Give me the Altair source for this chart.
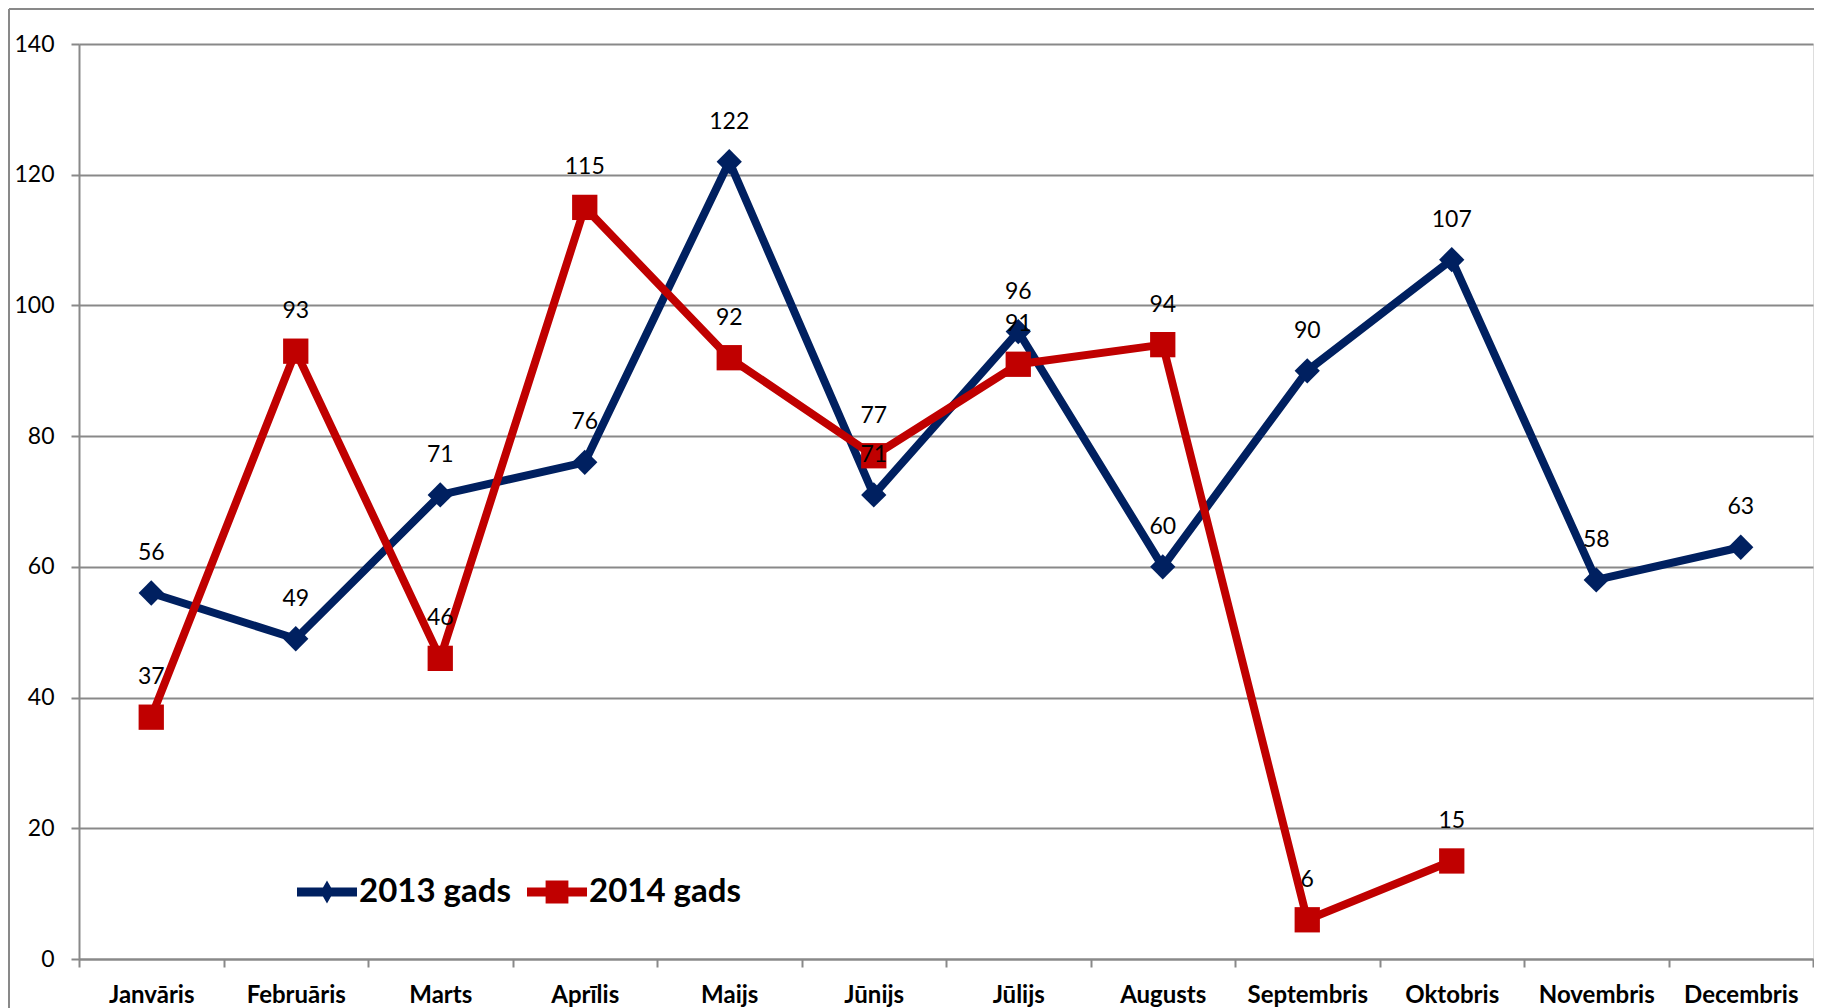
import altair as alt
import pandas as pd

# ---- data ----
months = ["Janvāris", "Februāris", "Marts", "Aprīlis", "Maijs", "Jūnijs",
          "Jūlijs", "Augusts", "Septembris", "Oktobris", "Novembris", "Decembris"]
values_2013 = [56, 49, 71, 76, 122, 71, 96, 60, 90, 107, 58, 63]
values_2014 = [37, 93, 46, 115, 92, 77, 91, 94, 6, 15]
series_names = ["2013 gads", "2014 gads"]
y_ticks = [0, 20, 40, 60, 80, 100, 120, 140]

rows = []
for m, v in zip(months, values_2013):
    rows.append({"month": m, "value": v, "series": series_names[0]})
for m, v in zip(months, values_2014):
    rows.append({"month": m, "value": v, "series": series_names[1]})
df = pd.DataFrame(rows)

FONT = "Lato"
NAVY = "#002060"
RED = "#C00000"
GRID = "#898989"

PATH_D = "M-1,-0.15L1,-0.15L1,0.15L-1,0.15Z M0,-0.38L0.22,0L0,0.38L-0.22,0Z"
PATH_S = "M-1,-0.15L1,-0.15L1,0.15L-1,0.15Z M-0.38,-0.38L0.38,-0.38L0.38,0.38L-0.38,0.38Z"

x_enc = alt.X(
    "month:N", sort=months,
    scale=alt.Scale(type="band", paddingInner=0, paddingOuter=0),
    axis=alt.Axis(title=None, labelFont=FONT, labelFontSize=24, labelFontWeight="bold",
                  labelColor="black", labelAngle=0, tickBand="extent", tickSize=8,
                  tickColor=GRID, tickWidth=2, domainColor=GRID, domainWidth=2,
                  labelPadding=16, grid=False),
)
y_enc = alt.Y(
    "value:Q",
    scale=alt.Scale(domain=[0, 140], nice=False, zero=True),
    axis=alt.Axis(title=None, values=y_ticks, labelFont=FONT, labelFontSize=23,
                  labelColor="black", tickSize=8, tickColor=GRID, tickWidth=2,
                  domainColor=GRID, domainWidth=2, labelPadding=17,
                  grid=True, gridColor=GRID, gridWidth=2),
)
color_scale = alt.Scale(domain=series_names, range=[NAVY, RED])

base = alt.Chart(df).encode(
    x=x_enc, y=y_enc,
    color=alt.Color("series:N", scale=color_scale, legend=None),
)

line13 = base.transform_filter(alt.datum.series == series_names[0]).mark_line(
    strokeWidth=8, strokeJoin="round", strokeCap="round")
pts13 = base.transform_filter(alt.datum.series == series_names[0]).mark_point(
    shape="diamond", filled=True, size=640, opacity=1)
line14 = base.transform_filter(alt.datum.series == series_names[1]).mark_line(
    strokeWidth=8, strokeJoin="round", strokeCap="round")
pts14 = base.transform_filter(alt.datum.series == series_names[1]).mark_point(
    shape="square", filled=True, size=640, opacity=1)

labels = alt.Chart(df).mark_text(
    dy=-40, font=FONT, fontSize=23, color="black", baseline="middle"
).encode(x=x_enc, y=y_enc, text="value:Q")

legend_cfg = dict(
    title=None, orient="none", legendX=218, legendY=818, direction="horizontal",
    labelFont=FONT, labelFontSize=33, labelFontWeight="bold", labelColor="black",
    labelOffset=2, columnPadding=16, symbolSize=3600, symbolOpacity=1,
    symbolStrokeWidth=0, padding=0,
)
legend_layer = alt.Chart(df).mark_point(filled=True, opacity=0).encode(
    x=x_enc, y=y_enc,
    color=alt.Color("series:N", scale=color_scale, legend=alt.Legend(**legend_cfg)),
    shape=alt.Shape("series:N", scale=alt.Scale(domain=series_names, range=[PATH_D, PATH_S]),
                    legend=alt.Legend(**legend_cfg)),
)

frame_src = pd.DataFrame({"k": [0]})
frame_top = alt.Chart(frame_src).mark_rule(color=GRID, strokeWidth=2).encode(
    x=alt.value(-70), x2=alt.value(1760), y=alt.value(-35))
frame_left = alt.Chart(frame_src).mark_rule(color=GRID, strokeWidth=2).encode(
    x=alt.value(-70), y=alt.value(-35), y2=alt.value(970))

chart = alt.layer(
    frame_top, frame_left, legend_layer, line13, pts13, line14, pts14, labels
).properties(
    width=1734, height=915,
    autosize=alt.AutoSizeParams(type="none"),
    padding={"left": 71, "top": 36, "right": 1, "bottom": 50},
).configure_view(
    stroke=None, fill="#E7E7E7"
).configure(background="white")

chart.save("out.html", embed_options={"renderer": "svg", "actions": False})
